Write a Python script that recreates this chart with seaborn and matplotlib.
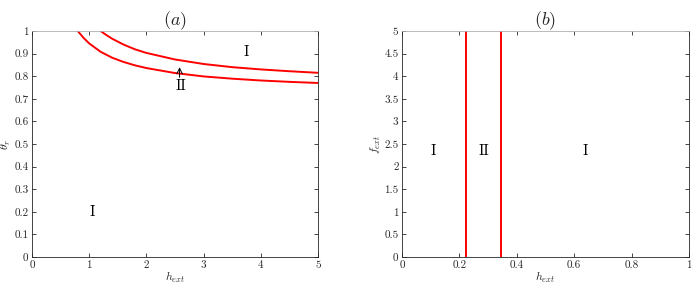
import numpy as np
import pandas as pd
import matplotlib
matplotlib.use("Agg")
import matplotlib.pyplot as plt
import seaborn as sns

# ---- data ----
h_lower = [0.8, 0.9, 1.0, 1.2, 1.4, 1.6, 1.8, 2.0, 2.5, 3.0, 3.5, 4.0, 4.5, 5.0]
theta_lower = [1.0, 0.970, 0.945, 0.908, 0.882, 0.863, 0.848, 0.836, 0.814, 0.799, 0.789, 0.781, 0.775, 0.770]
h_upper = [1.2, 1.3, 1.4, 1.6, 1.8, 2.0, 2.5, 3.0, 3.5, 4.0, 4.5, 5.0]
theta_upper = [1.0, 0.982, 0.966, 0.940, 0.919, 0.903, 0.874, 0.854, 0.840, 0.830, 0.822, 0.815]

b_boundaries = [0.222, 0.345]
b_f_range = [0, 5]

a_xticks = [0, 1, 2, 3, 4, 5]
a_yticks = [0, 0.1, 0.2, 0.3, 0.4, 0.5, 0.6, 0.7, 0.8, 0.9, 1]
b_xticks = [0, 0.2, 0.4, 0.6, 0.8, 1]
b_yticks = [0, 0.5, 1, 1.5, 2, 2.5, 3, 3.5, 4, 4.5, 5]

sns.set_style("white")
plt.rcParams["font.family"] = ["cmr10", "DejaVu Serif"]
plt.rcParams["mathtext.fontset"] = "cm"
plt.rcParams["axes.formatter.use_mathtext"] = True

fig = plt.figure(figsize=(6.91, 2.85), dpi=100)
ax1 = fig.add_axes([32/691, 1-257/285, 286/691, 226/285])
ax2 = fig.add_axes([402/691, 1-257/285, 287/691, 226/285])

red = "#ff0000"
sns.lineplot(x=h_lower, y=theta_lower, ax=ax1, color=red, lw=1.4, sort=False, estimator=None)
sns.lineplot(x=h_upper, y=theta_upper, ax=ax1, color=red, lw=1.4, sort=False, estimator=None)
for xb in b_boundaries:
    sns.lineplot(x=[xb, xb], y=b_f_range, ax=ax2, color=red, lw=1.4, sort=False, estimator=None)

def fmt(v):
    return "%g" % v

for ax, xt, yt, xl, yl in [(ax1, a_xticks, a_yticks, (0, 5), (0, 1)),
                           (ax2, b_xticks, b_yticks, (0, 1), (0, 5))]:
    ax.set_xlim(*xl)
    ax.set_ylim(*yl)
    ax.set_xticks(xt)
    ax.set_yticks(yt)
    ax.set_xticklabels([fmt(v) for v in xt])
    ax.set_yticklabels([fmt(v) for v in yt])
    ax.tick_params(direction="in", length=3, width=0.6, labelsize=8, colors="#262626",
                   top=True, right=True, bottom=True, left=True, pad=2.5)
    for sp in ax.spines.values():
        sp.set_visible(True)
        sp.set_color("#262626")
        sp.set_linewidth(0.6)
    ax.spines["top"].set_color("#b0b0b0")

ax1.set_title(r"$(a)$", fontsize=13, pad=4)
ax2.set_title(r"$(b)$", fontsize=13, pad=4)
ax1.set_xlabel(r"$h_{ext}$", fontsize=8.5, labelpad=0)
ax1.set_ylabel(r"$\theta_r$", fontsize=8.5, labelpad=1)
ax2.set_xlabel(r"$h_{ext}$", fontsize=8.5, labelpad=0)
ax2.set_ylabel(r"$f_{ext}$", fontsize=8.5, labelpad=1)

tk = dict(fontsize=10.5, ha="center", va="center", color="black")
ax1.text(1.05, 0.2, "I", **tk)
ax1.text(3.75, 0.905, "I", **tk)
ax1.text(2.6, 0.755, "II", **tk)
ax1.annotate("", xy=(2.58, 0.84), xytext=(2.58, 0.795),
             arrowprops=dict(arrowstyle="->", lw=0.7, color="black", shrinkA=0, shrinkB=0))

ax2.text(0.11, 2.35, "I", **tk)
ax2.text(0.287, 2.35, "II", **tk)
ax2.text(0.637, 2.35, "I", **tk)

fig.savefig("out.png", dpi=100)
